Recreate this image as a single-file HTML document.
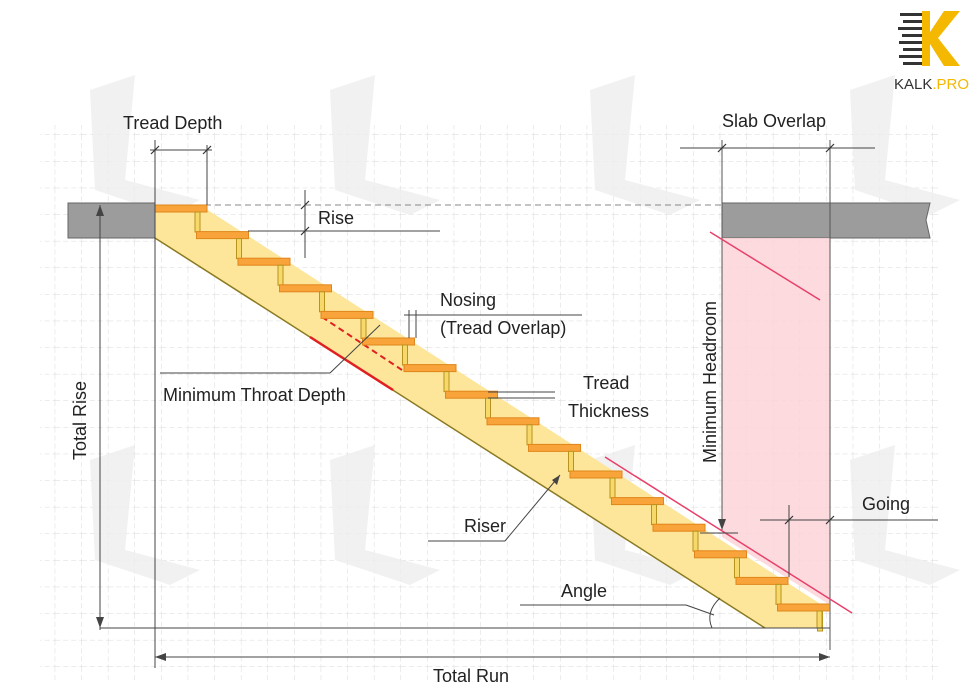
<!DOCTYPE html>
<html><head><meta charset="utf-8"><style>
body{margin:0;background:#fff}
svg{display:block}
text{font-family:"Liberation Sans",sans-serif;font-size:18px;fill:#222}
</style></head><body>
<svg width="980" height="694" viewBox="0 0 980 694" xmlns="http://www.w3.org/2000/svg">
<defs>
<g id="st">
<rect x="0" y="0" width="52" height="7" fill="#f9a43a" stroke="#e0861c" stroke-width="1"/>
<rect x="40" y="7" width="5" height="20" fill="#f7d86a" stroke="#b89320" stroke-width="1"/>
</g>
<pattern id="grid" width="26.6" height="26.6" patternUnits="userSpaceOnUse" x="2" y="2">
<path d="M26.6 0V26.6M0 26.6H26.6" stroke="#d8d8d8" stroke-width="1" stroke-dasharray="5 3" fill="none"/>
</pattern>
</defs>
<rect x="40" y="125" width="900" height="555" fill="url(#grid)"/>
<!-- faint watermark shapes -->
<g fill="#eeeeee" opacity="0.8">
<polygon points="90,90 135,75 125,180 200,200 170,215 95,190"/>
<polygon points="330,90 375,75 365,180 440,200 410,215 335,190"/>
<polygon points="590,90 635,75 625,180 700,200 670,215 595,190"/>
<polygon points="850,90 895,75 885,180 960,200 930,215 855,190"/>
<polygon points="90,460 135,445 125,550 200,570 170,585 95,560"/>
<polygon points="330,460 375,445 365,550 440,570 410,585 335,560"/>
<polygon points="590,460 635,445 625,550 700,570 670,585 595,560"/>
<polygon points="850,460 895,445 885,550 960,570 930,585 855,560"/>
</g>
<!-- slabs -->
<rect x="68" y="203" width="87" height="35" fill="#9c9c9c" stroke="#666"/>
<polygon points="722,203 930,203 926,220 930,238 722,238" fill="#9c9c9c" stroke="#666"/>
<!-- pink headroom -->
<polygon points="722,238 830,238 830,605 722,537" fill="#fbd3d8" opacity="0.85"/>
<line x1="830" y1="140" x2="830" y2="650" stroke="#555" stroke-width="1"/>
<line x1="722" y1="140" x2="722" y2="530" stroke="#555" stroke-width="1"/>
<!-- dashed level -->
<line x1="155" y1="205" x2="722" y2="205" stroke="#888" stroke-dasharray="6 4"/>
<!-- stringer -->
<polygon points="155,205 200,205 822,605 822,628 765,628 155,238" fill="#fde69a"/>
<line x1="155" y1="238" x2="765" y2="628" stroke="#8a7a20" stroke-width="1.5"/>
<line x1="310" y1="337" x2="393" y2="390" stroke="#e02020" stroke-width="2.5"/>
<line x1="322" y1="317" x2="405" y2="372" stroke="#e02020" stroke-width="2" stroke-dasharray="6 4"/>
<g>
<use href="#st" x="155" y="205"/><use href="#st" x="196.5" y="231.6"/><use href="#st" x="238" y="258.2"/><use href="#st" x="279.5" y="284.8"/>
<use href="#st" x="321" y="311.4"/><use href="#st" x="362.5" y="338"/><use href="#st" x="404" y="364.6"/><use href="#st" x="445.5" y="391.2"/>
<use href="#st" x="487" y="417.8"/><use href="#st" x="528.5" y="444.4"/><use href="#st" x="570" y="471"/><use href="#st" x="611.5" y="497.6"/>
<use href="#st" x="653" y="524.2"/><use href="#st" x="694.5" y="550.8"/><use href="#st" x="736" y="577.4"/><use href="#st" x="777.5" y="604"/>
</g>
<rect x="817" y="611" width="5" height="17" fill="#f7d86a" stroke="#b89320"/>
<!-- red lines -->
<line x1="605" y1="457" x2="852" y2="613" stroke="#e8406a" stroke-width="1.5"/>
<line x1="710" y1="232" x2="820" y2="300" stroke="#e8406a" stroke-width="1.5"/>
<!-- dimensions -->
<g stroke="#444" stroke-width="1" fill="none">
<line x1="100" y1="628" x2="830" y2="628"/>
<line x1="155" y1="140" x2="155" y2="668"/>
<line x1="155" y1="657" x2="830" y2="657"/>
<line x1="100" y1="205" x2="100" y2="630"/>
<line x1="207" y1="145" x2="207" y2="205"/>
<line x1="150" y1="150" x2="212" y2="150"/>
<line x1="305" y1="190" x2="305" y2="258"/>
<line x1="248" y1="231" x2="440" y2="231"/>
<line x1="680" y1="148" x2="875" y2="148"/>
<line x1="760" y1="520" x2="938" y2="520"/>
<line x1="789" y1="505" x2="789" y2="577"/>
<line x1="404" y1="315" x2="582" y2="315"/>
<line x1="409" y1="310" x2="409" y2="338"/>
<line x1="416" y1="310" x2="416" y2="338"/>
<line x1="488" y1="392" x2="555" y2="392"/>
<line x1="488" y1="398" x2="555" y2="398"/>
<line x1="700" y1="533" x2="738" y2="533"/>
<line x1="160" y1="373" x2="330" y2="373"/>
<line x1="330" y1="373" x2="380" y2="325"/>
<line x1="428" y1="541" x2="505" y2="541"/>
<line x1="505" y1="541" x2="560" y2="475"/>
<line x1="520" y1="605" x2="686" y2="605"/>
<line x1="686" y1="605" x2="714" y2="615"/>
<path d="M720,598 Q705,612 712,628"/>
</g>
<g fill="#444">
<polygon points="100,205 96,216 104,216"/><polygon points="100,628 96,617 104,617"/>
<polygon points="155,657 166,653 166,661"/><polygon points="830,657 819,653 819,661"/>
<polygon points="722,530 718,519 726,519"/>
<polygon points="560,475 552,480 557,485"/>
</g>
<g stroke="#333" stroke-width="1.2">
<line x1="151" y1="154" x2="159" y2="146"/><line x1="203" y1="154" x2="211" y2="146"/>
<line x1="301" y1="209" x2="309" y2="201"/><line x1="301" y1="235" x2="309" y2="227"/>
<line x1="718" y1="152" x2="726" y2="144"/><line x1="826" y1="152" x2="834" y2="144"/>
<line x1="785" y1="524" x2="793" y2="516"/><line x1="826" y1="524" x2="834" y2="516"/>
</g>
<!-- labels -->
<text x="123" y="129">Tread Depth</text>
<text x="318" y="224">Rise</text>
<text x="722" y="127">Slab Overlap</text>
<text x="440" y="306">Nosing</text>
<text x="440" y="334">(Tread Overlap)</text>
<text x="163" y="401">Minimum Throat Depth</text>
<text x="583" y="389">Tread</text>
<text x="568" y="417">Thickness</text>
<text x="464" y="532">Riser</text>
<text x="561" y="597">Angle</text>
<text x="862" y="510">Going</text>
<text x="433" y="682">Total Run</text>
<text transform="translate(86,460) rotate(-90)">Total Rise</text>
<text transform="translate(716,463) rotate(-90)">Minimum Headroom</text>
<!-- logo -->
<g fill="#333">
<rect x="900" y="13" width="22" height="3"/><rect x="903" y="20" width="19" height="3"/><rect x="898" y="27" width="24" height="3"/>
<rect x="902" y="34" width="20" height="3"/><rect x="899" y="41" width="23" height="3"/><rect x="903" y="48" width="19" height="3"/><rect x="899" y="55" width="23" height="3"/><rect x="903" y="62" width="19" height="3"/>
</g>
<polygon points="922,11 930,11 930,32 944,11 960,11 938,38 960,66 944,66 930,44 930,66 922,66" fill="#f5b800"/>
<text x="894" y="89" style="font-size:15px;fill:#333">KALK<tspan fill="#f5b800">.PRO</tspan></text>
</svg>
</body></html>
